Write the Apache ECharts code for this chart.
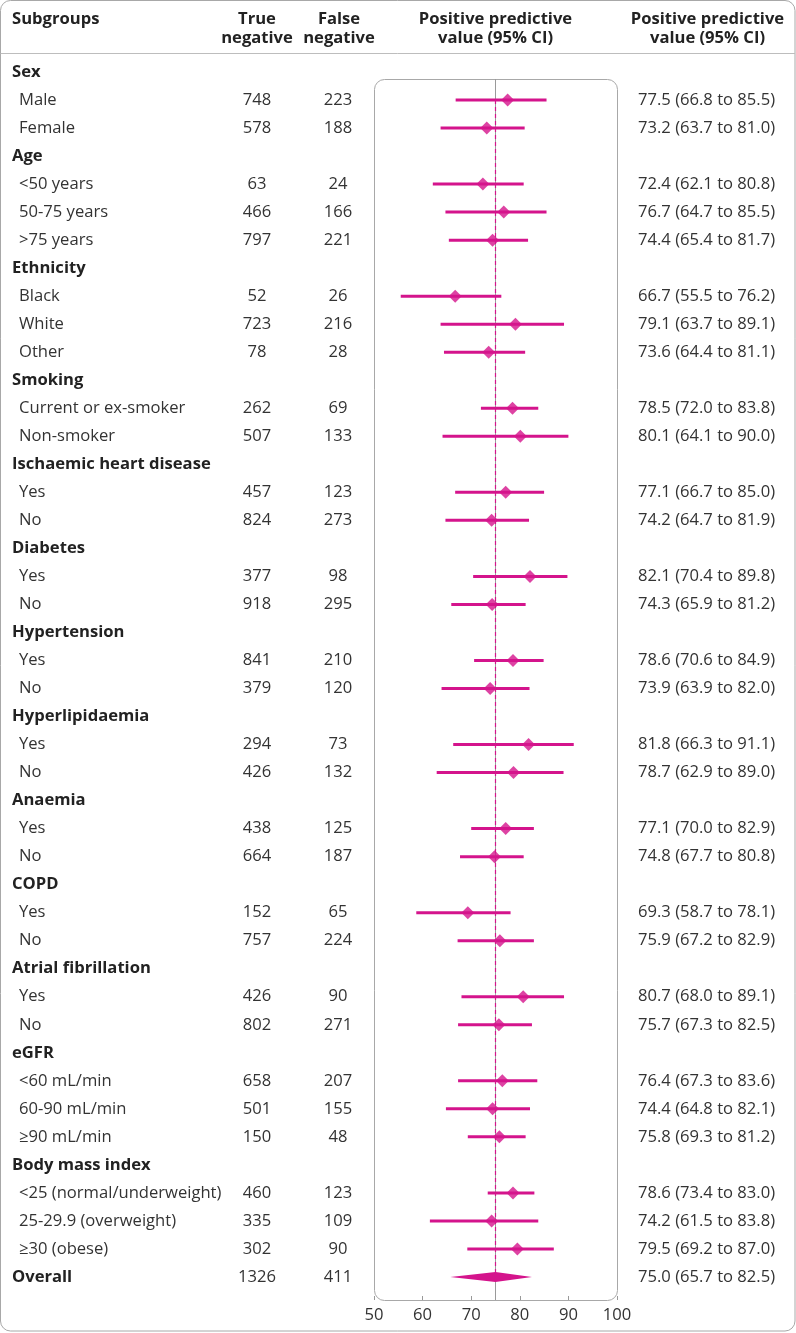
<!DOCTYPE html>
<html><head><meta charset="utf-8">
<script src="https://cdn.jsdelivr.net/npm/echarts@6/dist/echarts.min.js"></script>
<style>html,body{margin:0;padding:0;background:#fff}#c{width:796px;height:1333px}</style>
</head><body><div id="c"></div><script>
// ---------- data ----------
const labels = ['Sex','Male','Female','Age','<50 years','50-75 years','>75 years','Ethnicity','Black','White','Other','Smoking','Current or ex-smoker','Non-smoker','Ischaemic heart disease','Yes','No','Diabetes','Yes','No','Hypertension','Yes','No','Hyperlipidaemia','Yes','No','Anaemia','Yes','No','COPD','Yes','No','Atrial fibrillation','Yes','No','eGFR','<60 mL/min','60-90 mL/min','≥90 mL/min','Body mass index','<25 (normal/underweight)','25-29.9 (overweight)','≥30 (obese)','Overall'];
const rowKind = ['h','i','i','h','i','i','i','h','i','i','i','h','i','i','h','i','i','h','i','i','h','i','i','h','i','i','h','i','i','h','i','i','h','i','i','h','i','i','i','h','i','i','i','o'];
const trueNeg = ['',748,578,'',63,466,797,'',52,723,78,'',262,507,'',457,824,'',377,918,'',841,379,'',294,426,'',438,664,'',152,757,'',426,802,'',658,501,150,'',460,335,302,1326];
const falseNeg = ['',223,188,'',24,166,221,'',26,216,28,'',69,133,'',123,273,'',98,295,'',210,120,'',73,132,'',125,187,'',65,224,'',90,271,'',207,155,48,'',123,109,90,411];
const ppv = [null,77.5,73.2,null,72.4,76.7,74.4,null,66.7,79.1,73.6,null,78.5,80.1,null,77.1,74.2,null,82.1,74.3,null,78.6,73.9,null,81.8,78.7,null,77.1,74.8,null,69.3,75.9,null,80.7,75.7,null,76.4,74.4,75.8,null,78.6,74.2,79.5,75.0];
const ciLow = [null,66.8,63.7,null,62.1,64.7,65.4,null,55.5,63.7,64.4,null,72.0,64.1,null,66.7,64.7,null,70.4,65.9,null,70.6,63.9,null,66.3,62.9,null,70.0,67.7,null,58.7,67.2,null,68.0,67.3,null,67.3,64.8,69.3,null,73.4,61.5,69.2,65.7];
const ciHigh = [null,85.5,81.0,null,80.8,85.5,81.7,null,76.2,89.1,81.1,null,83.8,90.0,null,85.0,81.9,null,89.8,81.2,null,84.9,82.0,null,91.1,89.0,null,82.9,80.8,null,78.1,82.9,null,89.1,82.5,null,83.6,82.1,81.2,null,83.0,83.8,87.0,82.5];
const xMin = 50, xMax = 100, xStep = 10;
const refValue = 75;
const headerSubgroups = 'Subgroups';
const headerTN = ['True', 'negative'];
const headerFN = ['False', 'negative'];
const headerPlot = ['Positive predictive', 'value (95% CI)'];
const headerCI = ['Positive predictive', 'value (95% CI)'];

// ---------- layout / style ----------
const W = 796, H = 1333;
const FONT = '"Open Sans", sans-serif';
const FS = 16.6;
const PINK = '#d4148c';
const TXT = '#333333';
const BOLD = '#222222';
const FRAME = '#a8a8a8';
const plotL = 374, plotR = 617, plotT = 79, plotB = 1300;
const rowTop = 72, rowStep = 28.023;
const nRows = labels.length;

const ciText = ppv.map((p, i) => p == null ? '' :
  p.toFixed(1) + ' (' + ciLow[i].toFixed(1) + ' to ' + ciHigh[i].toFixed(1) + ')');

const ciData = [], ptData = [], overallData = [];
for (let i = 0; i < nRows; i++) {
  if (ppv[i] == null) continue;
  if (rowKind[i] === 'o') overallData.push([ciLow[i], ciHigh[i], ppv[i], i]);
  else { ciData.push([ciLow[i], ciHigh[i], i]); ptData.push([ppv[i], i]); }
}
const firstItem = rowKind.indexOf('i');
const lastRow = nRows - 1;

const chart = echarts.init(document.getElementById('c'), null, {renderer: 'canvas'});

function hText(x, y, txt, align) {
  return {type: 'text', x: x, y: y, silent: true,
    style: {text: txt, font: 'bold ' + FS + 'px ' + FONT, fill: BOLD, align: align, verticalAlign: 'middle'}};
}
const gfx = [
  {type: 'rect', silent: true, shape: {x: 0.5, y: 0.5, width: W - 1.5, height: H - 2.5, r: 10},
    style: {fill: 'none', stroke: FRAME, lineWidth: 1}},
  {type: 'line', silent: true, shape: {x1: 0.5, y1: 53.5, x2: W - 1, y2: 53.5},
    style: {stroke: '#bdbdbd', lineWidth: 1}},
  {type: 'rect', silent: true, z: 0, shape: {x: plotL + 0.5, y: plotT + 0.5, width: plotR - plotL, height: plotB - plotT, r: 10},
    style: {fill: 'none', stroke: FRAME, lineWidth: 1}},
  hText(12, 19, headerSubgroups, 'left'),
  hText(257, 19, headerTN[0], 'center'), hText(257, 38, headerTN[1], 'center'),
  hText(339, 19, headerFN[0], 'center'), hText(339, 38, headerFN[1], 'center'),
  hText(495.5, 19, headerPlot[0], 'center'), hText(495.5, 38, headerPlot[1], 'center'),
  hText(707.5, 19, headerCI[0], 'center'), hText(707.5, 38, headerCI[1], 'center')
];

const catAxisBase = {
  type: 'category', gridIndex: 0, inverse: true, data: labels,
  axisLine: {show: false}, axisTick: {show: false}, splitLine: {show: false}
};
const tableTop = rowTop - rowStep / 2;
const tableBottom = H - (rowTop + rowStep * (nRows - 1) + rowStep / 2);

const option = {
  animation: false,
  backgroundColor: '#fff',
  textStyle: {fontFamily: FONT},
  grid: [
    {left: plotL, right: W - plotR, top: tableTop, bottom: tableBottom},
    {left: plotL, right: W - plotR, top: plotT, bottom: H - plotB}
  ],
  graphic: gfx,
  xAxis: [
    {type: 'value', gridIndex: 0, show: false, min: xMin, max: xMax},
    {type: 'value', gridIndex: 1, min: xMin, max: xMax, interval: xStep,
      axisLine: {show: false}, splitLine: {show: false},
      axisTick: {show: true, inside: true, length: 4, lineStyle: {color: '#999'}},
      axisLabel: {show: true, fontSize: FS, color: TXT, fontFamily: FONT, margin: 7}}
  ],
  yAxis: [
    Object.assign({}, catAxisBase, {position: 'left', axisLabel: {
      interval: 0, align: 'left', margin: plotL - 12, fontSize: FS, color: TXT, fontFamily: FONT,
      formatter: (v, idx) => rowKind[idx] === 'i' ? '{i|' + v + '}' : '{h|' + v + '}',
      rich: {
        h: {fontSize: FS, fontWeight: 'bold', color: BOLD, fontFamily: FONT},
        i: {fontSize: FS, color: TXT, fontFamily: FONT, padding: [0, 0, 0, 7]}
      }}}),
    Object.assign({}, catAxisBase, {position: 'left', offset: plotL - 257, axisLabel: {
      interval: 0, align: 'center', margin: 0, fontSize: FS, color: TXT, fontFamily: FONT,
      formatter: (v, idx) => String(trueNeg[idx])}}),
    Object.assign({}, catAxisBase, {position: 'left', offset: plotL - 338, axisLabel: {
      interval: 0, align: 'center', margin: 0, fontSize: FS, color: TXT, fontFamily: FONT,
      formatter: (v, idx) => String(falseNeg[idx])}}),
    Object.assign({}, catAxisBase, {position: 'right', offset: 638 - plotR, axisLabel: {
      interval: 0, align: 'left', margin: 0, fontSize: FS, color: TXT, fontFamily: FONT,
      formatter: (v, idx) => ciText[idx]}}),
    {type: 'value', gridIndex: 1, inverse: true, show: false,
      min: (plotT - rowTop) / rowStep, max: (plotB - rowTop) / rowStep}
  ],
  series: [
    {
      type: 'custom', name: 'CI', xAxisIndex: 1, yAxisIndex: 4, z: 3,
      data: ciData, encode: {x: [0, 1], y: 2},
      renderItem: function (params, api) {
        const a = api.coord([api.value(0), api.value(2)]);
        const b = api.coord([api.value(1), api.value(2)]);
        return {type: 'line', shape: {x1: a[0], y1: a[1], x2: b[0], y2: b[1]},
          style: {stroke: PINK, lineWidth: 3}};
      },
      markLine: {silent: true, symbol: 'none', animation: false, z: 1,
        label: {show: false}, lineStyle: {color: '#9a9a9a', width: 1, type: 'solid'},
        data: [{xAxis: refValue}]}
    },
    {
      type: 'scatter', name: 'PPV', xAxisIndex: 1, yAxisIndex: 4, z: 4,
      data: ptData, symbol: 'diamond', symbolSize: 13,
      itemStyle: {color: PINK},
      markLine: {silent: true, symbol: 'none', animation: false, z: 2,
        label: {show: false}, lineStyle: {color: PINK, width: 1.2, type: [4, 3]},
        data: [[{coord: [refValue, firstItem]}, {coord: [refValue, lastRow]}]]}
    },
    {
      type: 'custom', name: 'Overall', xAxisIndex: 1, yAxisIndex: 4, z: 4,
      data: overallData, encode: {x: [0, 1, 2], y: 3},
      renderItem: function (params, api) {
        const y = api.value(3);
        const l = api.coord([api.value(0), y]);
        const r = api.coord([api.value(1), y]);
        const m = api.coord([api.value(2), y]);
        const hh = 5;
        return {type: 'polygon', shape: {points: [[l[0], l[1]], [m[0], m[1] - hh], [r[0], r[1]], [m[0], m[1] + hh]]},
          style: {fill: PINK}};
      }
    }
  ]
};
chart.setOption(option);
</script></body></html>
